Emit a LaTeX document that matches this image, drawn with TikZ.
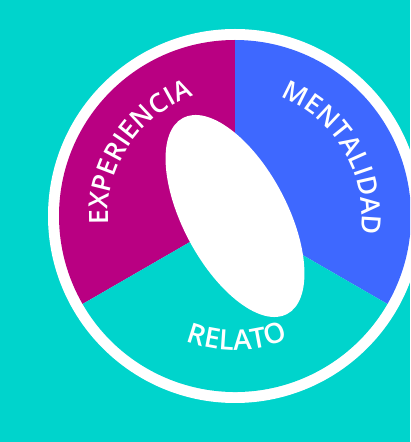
\documentclass[tikz,border=0pt]{standalone}
\usepackage{fontspec}
\setmainfont{Open Sans}
\IfFontExistsTF{Open Sans SemiBold}{\newfontfamily\labelfam{Open Sans SemiBold}}{%
\IfFontExistsTF{Open Sans Semibold}{\newfontfamily\labelfam{Open Sans Semibold}}{%
\IfFontExistsTF{Noto Sans SemiBold}{\newfontfamily\labelfam{Noto Sans SemiBold}}{%
\IfFontExistsTF{Noto Sans Medium}{\newfontfamily\labelfam{Noto Sans Medium}}{%
\newfontfamily\labelfam{Open Sans}[FakeBold=2.6]}}}}
\usepackage{tikz}
\usepackage{xcolor}
\usetikzlibrary{decorations.text}
\definecolor{ringteal}{RGB}{0, 212, 204}
\definecolor{expmagenta}{RGB}{185, 0, 130}
\definecolor{mentblue}{RGB}{62, 104, 255}
\newcommand{\labelfont}{\labelfam\fontsize{26.5}{26.5}\selectfont}
\newcommand{\relatofont}{\labelfam\fontsize{28}{28}\selectfont}
\tikzset{
    sector/.style={draw=none},
    arclabel/.style={decorate, decoration={text along path, text align=center, text color=white}}
}

\begin{document}
\begin{tikzpicture}[x=1pt, y=1pt]
                    \useasboundingbox (0,0) rectangle (410,442);
                    \clip (0,0) rectangle (410,442);
                    \fill[ringteal] (0,0) rectangle (410,442);
                    \coordinate (ctr) at (235,226);
                    % white ring
                    \fill[white] (ctr) circle[radius=187pt];
                    % the three sectors
                    \fill[sector, expmagenta] (ctr) -- ([shift={(90:176pt)}]ctr) arc[start angle=90, end angle=210, radius=176pt] -- cycle;
                    \fill[sector, mentblue] (ctr) -- ([shift={(-30:176pt)}]ctr) arc[start angle=-30, end angle=90, radius=176pt] -- cycle;
                    \fill[sector, ringteal] (ctr) -- ([shift={(210:176pt)}]ctr) arc[start angle=210, end angle=330, radius=176pt] -- cycle;
                    % centre
                    \fill[white, rotate around={-62:(ctr)}] (ctr) ellipse[x radius=111pt, y radius=52pt];
                    % labels
                    \path[arclabel, decoration={text={|\labelfont|EXPERIENCIA}}]
                        ([shift={(206.5:127pt)}]ctr) arc[start angle=206.5, end angle=86.5, radius=127pt];
                    \path[arclabel, decoration={text={|\labelfont|MENTALIDAD}}]
                        ([shift={(90.5:127pt)}]ctr) arc[start angle=90.5, end angle=-29.5, radius=127pt];
                    \path[arclabel, decoration={text={|\relatofont|RELATO}}]
                        ([shift={(226:134pt)}]ctr) arc[start angle=226, end angle=316, radius=134pt];
                \end{tikzpicture}
\end{document}
